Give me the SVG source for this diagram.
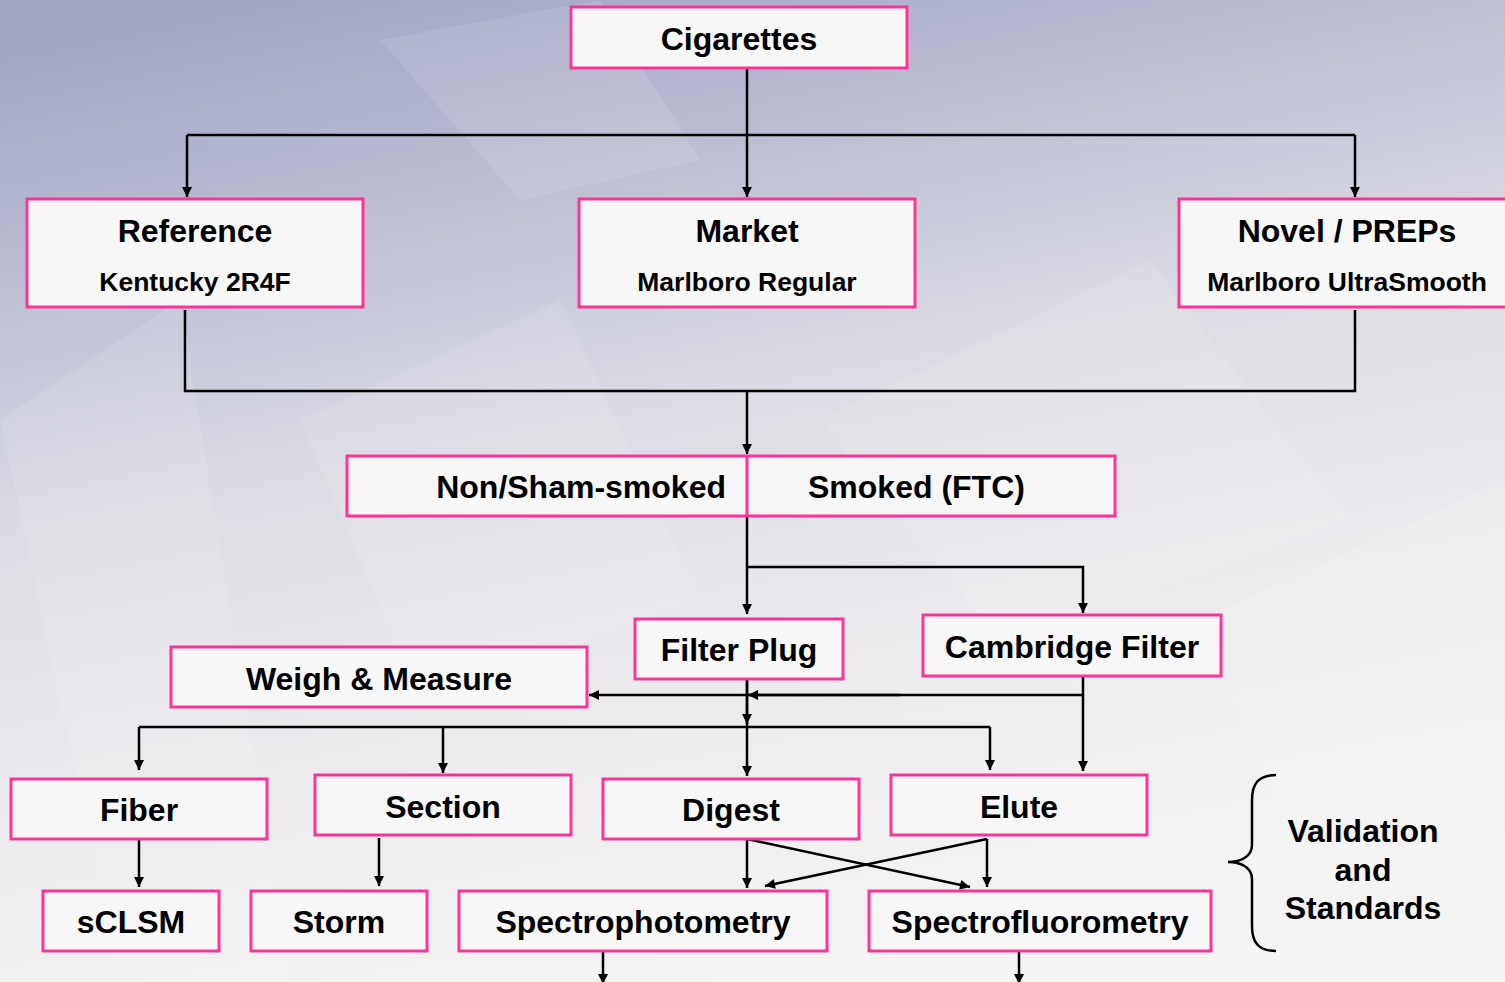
<svg xmlns="http://www.w3.org/2000/svg" width="1505" height="982" viewBox="0 0 1505 982">
<defs>
<linearGradient id="bg" x1="0.2" y1="0" x2="0.5" y2="1">
<stop offset="0" stop-color="#a3a7c6"/>
<stop offset="0.22" stop-color="#bdbfd4"/>
<stop offset="0.45" stop-color="#dcdce4"/>
<stop offset="0.7" stop-color="#ebebee"/>
<stop offset="1" stop-color="#f4f4f4"/>
</linearGradient>
<marker id="ah" viewBox="0 0 10 10" refX="10" refY="5" markerWidth="11" markerHeight="10" markerUnits="userSpaceOnUse" orient="auto">
<path d="M0,0 L10,5 L0,10 z" fill="#000"/>
</marker>
<style>
.box{fill:#f7f7f7;stroke:#ff3399;stroke-width:3}
.t{font-family:"Liberation Sans",Arial,sans-serif;font-weight:bold;font-size:32px;fill:#000;text-anchor:middle}
.s{font-size:26.5px}
.c{fill:none;stroke:#000;stroke-width:2.5}
.a{fill:none;stroke:#000;stroke-width:2.5;marker-end:url(#ah)}
</style>
</defs>
<rect width="1505" height="982" fill="url(#bg)"/>
<g fill="#ffffff" opacity="0.1">
<path d="M0,420 L180,300 L290,982 L120,982 z"/>
<path d="M300,420 L560,300 L700,600 L420,700 z"/>
<path d="M820,420 L1150,260 L1350,520 L1000,640 z"/>
<path d="M1200,620 L1505,480 L1505,760 L1300,860 z"/>
<path d="M380,40 L600,0 L700,160 L520,200 z"/>
</g>
<g id="connectors">
<path class="a" d="M747,68 V197"/>
<path class="c" d="M187,135 H1355"/>
<path class="a" d="M187,135 V197"/>
<path class="a" d="M1355,135 V197"/>
<path class="c" d="M185,310 V391 H1355 V310"/>
<path class="a" d="M747,391 V454"/>
<path class="a" d="M747,516 V614"/>
<path class="a" d="M747,567 H1083 V613"/>
<path class="c" d="M747,679 V727"/>
<path class="a" d="M747,679 V724"/>
<path class="a" d="M1083,695 H589"/>
<path class="a" d="M900,695 H748"/>
<path class="a" d="M1083,676 V771"/>
<path class="c" d="M139,727 H990"/>
<path class="a" d="M139,727 V770"/>
<path class="a" d="M443,727 V773"/>
<path class="a" d="M990,727 V770"/>
<path class="a" d="M747,727 V776"/>
<path class="a" d="M139,839 V887"/>
<path class="a" d="M379,838 V886"/>
<path class="a" d="M747,839 V888"/>
<path class="a" d="M747,839 L970,887"/>
<path class="a" d="M987,839 V887"/>
<path class="a" d="M987,839 L765,886"/>
<path class="a" d="M603,951 V984"/>
<path class="a" d="M1019,951 V984"/>
<path class="c" d="M1276,775 C1258,775 1252,784 1252,800 L1252,845 C1252,857 1240,862 1228,862 C1240,862 1252,867 1252,879 L1252,926 C1252,942 1258,951 1276,951"/>
</g>
<g id="cigarettes"><rect class="box" x="571" y="7" width="336" height="61"/><text class="t" x="739" y="50">Cigarettes</text></g>
<g id="reference"><rect class="box" x="27" y="199" width="336" height="108"/><text class="t" x="195" y="242">Reference</text><text class="t s" x="195" y="291">Kentucky 2R4F</text></g>
<g id="market"><rect class="box" x="579" y="199" width="336" height="108"/><text class="t" x="747" y="242">Market</text><text class="t s" x="747" y="291">Marlboro Regular</text></g>
<g id="novel"><rect class="box" x="1179" y="199" width="340" height="108"/><text class="t" x="1347" y="242">Novel / PREPs</text><text class="t s" x="1347" y="291">Marlboro UltraSmooth</text></g>
<g id="smoking"><rect class="box" x="347" y="456" width="768" height="60"/><line x1="747" y1="456" x2="747" y2="516" stroke="#ff3399" stroke-width="3"/><text class="t" x="726" y="498" style="text-anchor:end">Non/Sham-smoked</text><text class="t" x="808" y="498" style="text-anchor:start">Smoked (FTC)</text></g>
<g id="filterplug"><rect class="box" x="635" y="619" width="208" height="60"/><text class="t" x="739" y="661">Filter Plug</text></g>
<g id="cambridge"><rect class="box" x="923" y="615" width="298" height="61"/><text class="t" x="1072" y="658">Cambridge Filter</text></g>
<g id="weigh"><rect class="box" x="171" y="647" width="416" height="60"/><text class="t" x="379" y="690">Weigh &amp; Measure</text></g>
<g id="fiber"><rect class="box" x="11" y="779" width="256" height="60"/><text class="t" x="139" y="821">Fiber</text></g>
<g id="section"><rect class="box" x="315" y="775" width="256" height="60"/><text class="t" x="443" y="818">Section</text></g>
<g id="digest"><rect class="box" x="603" y="779" width="256" height="60"/><text class="t" x="731" y="821">Digest</text></g>
<g id="elute"><rect class="box" x="891" y="775" width="256" height="60"/><text class="t" x="1019" y="818">Elute</text></g>
<g id="sclsm"><rect class="box" x="43" y="891" width="176" height="60"/><text class="t" x="131" y="933">sCLSM</text></g>
<g id="storm"><rect class="box" x="251" y="891" width="176" height="60"/><text class="t" x="339" y="933">Storm</text></g>
<g id="spectrophotometry"><rect class="box" x="459" y="891" width="368" height="60"/><text class="t" x="643" y="933">Spectrophotometry</text></g>
<g id="spectrofluorometry"><rect class="box" x="869" y="891" width="342" height="60"/><text class="t" x="1040" y="933">Spectrofluorometry</text></g>
<g id="validation"><text class="t" x="1363" y="842">Validation</text><text class="t" x="1363" y="881">and</text><text class="t" x="1363" y="919">Standards</text></g>
</svg>
